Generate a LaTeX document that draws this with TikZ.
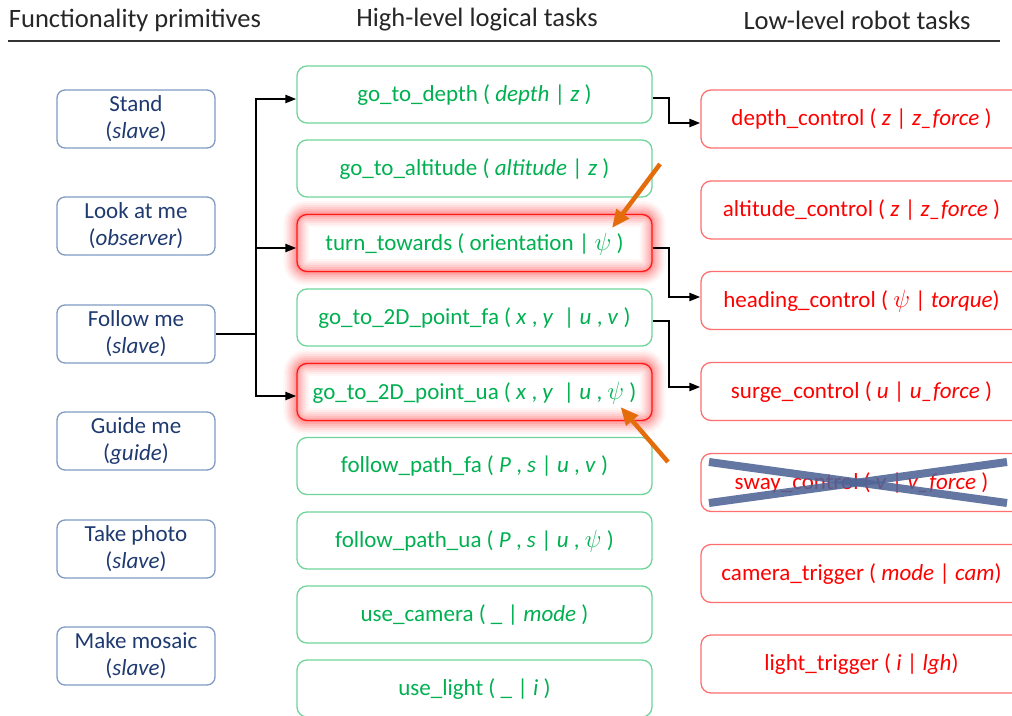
\documentclass[tikz,border=0pt]{standalone}
\usepackage{fontspec}
\setmainfont{Carlito}
\usetikzlibrary{arrows.meta,backgrounds,calc}
\definecolor{primtext}{HTML}{1F3A70}
\definecolor{primline}{HTML}{8099C2}
\definecolor{tasktext}{HTML}{00B050}
\definecolor{taskline}{HTML}{6FD49A}
\definecolor{robottext}{HTML}{FF0000}
\definecolor{robotline}{HTML}{FF6F6F}
\definecolor{pointer}{HTML}{E46C0A}
\definecolor{strike}{HTML}{4F6496}
\newcommand{\ps}{$\psi$}
\begin{document}
\begin{tikzpicture}[x=1pt,y=-1pt,
  header/.style={font=\fontsize{26.5}{29}\selectfont, text=black!85},
  primbox/.style={draw=primline, line width=1.3pt, rounded corners=8pt,
    minimum width=158pt, minimum height=58pt, align=center, text=primtext,
    font=\fontsize{23}{27}\selectfont, inner sep=0pt},
  taskbox/.style={draw=taskline, line width=1.3pt, rounded corners=10pt,
    minimum width=355pt, minimum height=57pt, text=tasktext,
    font=\fontsize{23}{27}\selectfont, inner sep=0pt, text depth=3pt},
  hotbox/.style={taskbox, draw=red!90},
  robotbox/.style={draw=robotline, line width=1.3pt, rounded corners=10pt,
    minimum width=321pt, minimum height=58pt, text=robottext,
    font=\fontsize{23}{27}\selectfont, inner sep=0pt, text depth=3pt},
  link/.style={line width=2.2pt, black},
  linkarrow/.style={link, -{Triangle[length=11pt,width=8pt]}},
  hint/.style={line width=4.5pt, pointer, -{Triangle[length=18pt,width=15pt]}},
  cross/.style={line width=8pt, strike, opacity=0.88}
]
\useasboundingbox (0,0) rectangle (1012,715);
\clip (0,0) rectangle (1012,715);

% column headers
\node[header] (h1) at (135,20) {Functionality primitives};
\node[header] (h2) at (477,20) {High-level logical tasks};
\node[header] (h3) at (857,20) {Low-level robot tasks};
\draw[line width=1.2pt, black!80] (8,41) coordinate (rl) -- (1000,41) coordinate (rr);

% functionality primitives
\node[primbox] (stand)  at (136,119) {Stand\\(\textit{slave})};
\node[primbox] (look)   at (136,226) {Look at me\\(\textit{observer})};
\node[primbox] (follow) at (136,334) {Follow me\\(\textit{slave})};
\node[primbox] (guide)  at (136,441) {Guide me\\(\textit{guide})};
\node[primbox] (photo)  at (136,549) {Take photo\\(\textit{slave})};
\node[primbox] (mosaic) at (136,656) {Make mosaic\\(\textit{slave})};

% high-level logical tasks
\node[taskbox] (gd)  at (474.5,94.5)  {go\_to\_depth ( \textit{depth} | \textit{z} )};
\node[taskbox] (ga)  at (474.5,168.5) {go\_to\_altitude ( \textit{altitude} | \textit{z} )};
\node[hotbox]  (tt)  at (474.5,243)   {turn\_towards ( orientation | \ps\ )};
\node[taskbox] (gfa) at (474.5,317.5) {go\_to\_2D\_point\_fa ( \textit{x} , \textit{y} \ | \textit{u} , \textit{v} )};
\node[hotbox]  (gua) at (474.5,392)   {go\_to\_2D\_point\_ua ( \textit{x} , \textit{y} \ | \textit{u} , \ps\ )};
\node[taskbox] (pfa) at (474.5,466)   {follow\_path\_fa ( \textit{P} , \textit{s} | \textit{u} , \textit{v} )};
\node[taskbox] (pua) at (474.5,540.5) {follow\_path\_ua ( \textit{P} , \textit{s} | \textit{u} , \ps\ )};
\node[taskbox] (uc)  at (474.5,614.5) {use\_camera ( \_ | \textit{mode} )};
\node[taskbox] (ul)  at (474.5,688.5) {use\_light ( \_ | \textit{i} )};

% soft red halo around the highlighted tasks
\begin{scope}[on background layer]
  \foreach \n in {tt,gua}{
    \foreach \w/\o in {26/0.035,22/0.045,18/0.06,14/0.07,10/0.08,6/0.1,2/0.12}{
      \draw[red, line width=\w pt, opacity=\o, rounded corners=10pt]
        (\n.north west) rectangle (\n.south east);
    }
  }
\end{scope}

% low-level robot tasks
\node[robotbox] (dc) at (861.5,119)   {depth\_control ( \textit{z} | \textit{z\_force} )};
\node[robotbox] (ac) at (861.5,210)   {altitude\_control ( \textit{z} | \textit{z\_force} )};
\node[robotbox] (hc) at (861.5,300.5) {heading\_control ( \ps\ | \textit{torque})};
\node[robotbox] (sc) at (861.5,391.5) {surge\_control ( \textit{u} | \textit{u\_force} )};
\node[robotbox] (sw) at (861.5,482.5) {sway\_control ( \textit{v} | \textit{v\_force} )};
\node[robotbox] (ct) at (861.5,573.5) {camera\_trigger ( \textit{mode} | \textit{cam})};
\node[robotbox] (lt) at (861.5,664)   {light\_trigger ( \textit{i} | \textit{lgh})};

% follow me dispatches to three logical tasks
\coordinate (bus) at (256,0);
\draw[link] (follow.east) -- (follow.east -| bus);
\draw[linkarrow] (follow.east -| bus) |- ([yshift=-4.5pt]gd.west);
\draw[linkarrow] (follow.east -| bus) |- ([yshift=-5pt]tt.west);
\draw[linkarrow] (follow.east -| bus) |- ([yshift=-4pt]gua.west);

% logical tasks feed the robot controllers
\draw[linkarrow] ([yshift=-3.5pt]gd.east) -- ++(16,0) |- ([yshift=-4pt]dc.west);
\draw[linkarrow] ([yshift=-5pt]tt.east) -- ++(16,0) |- ([yshift=3.5pt]hc.west);
\draw[linkarrow] ([yshift=-3.5pt]gfa.east) -- ++(16,0) |- ([yshift=4.5pt]sc.west);

% orange pointers to the heading angle
\coordinate (p1) at (660,164);
\coordinate (p2) at (668,462);
\draw[hint] (p1) -- ($(tt.center)+(137.5,-15)$);
\draw[hint] (p2) -- ($(gua.center)+(146,15)$);

% sway control is struck out
\draw[cross] ($(sw.center)+(-152.5,-20.5)$) -- ($(sw.center)+(145.5,20.5)$);
\draw[cross] ($(sw.center)+(-152.5,20.5)$) -- ($(sw.center)+(145.5,-20.5)$);
\end{tikzpicture}
\end{document}
